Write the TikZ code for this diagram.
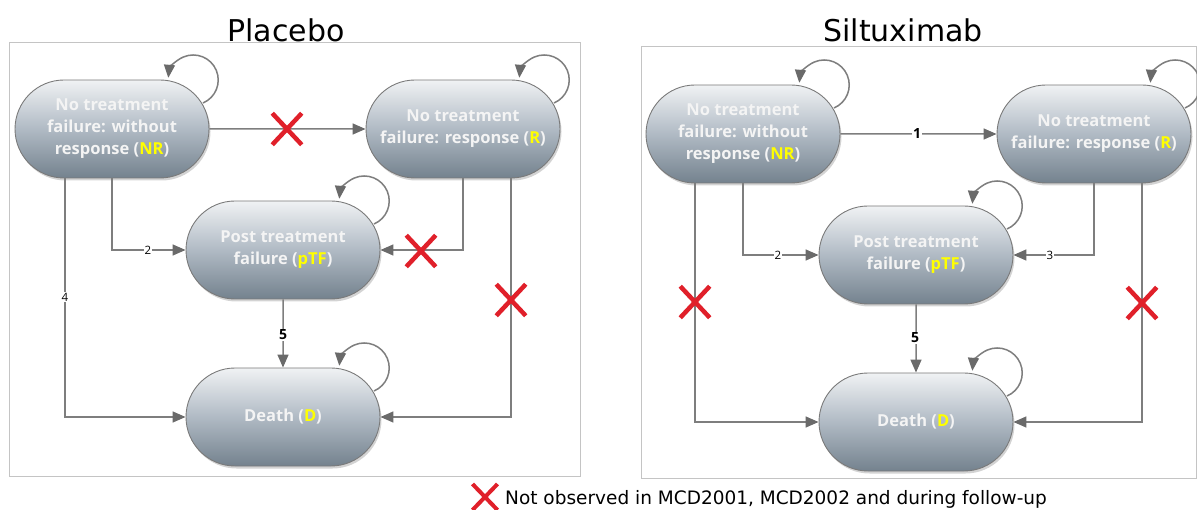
\documentclass[tikz,border=0pt]{standalone}
\usepackage{fontspec}
\setmainfont{DejaVu Sans}
\newfontfamily\nodefont{Open Sans}
\usetikzlibrary{arrows.meta,shapes.misc,shadows,calc}
\definecolor{conncol}{HTML}{7E7E7E}
\definecolor{tipcol}{HTML}{6A6A6A}
\definecolor{xred}{HTML}{E0202A}
\definecolor{framecol}{HTML}{C4C4C4}
\definecolor{stop}{HTML}{F0F2F4}
\definecolor{smid}{HTML}{B0BAC4}
\definecolor{sbot}{HTML}{74828E}
\definecolor{sedge}{HTML}{7A7A7A}
\definecolor{yel}{HTML}{FFFF00}
\definecolor{ntext}{HTML}{F4F4F4}
\newcommand\selfloop[1]{\draw[conn] ($(#1.center)+(91,26)$) arc[start angle=-67, end angle=175, radius=25];}
\begin{document}
\begin{tikzpicture}[x=1pt,y=1pt,
  state/.style={shape=rounded rectangle, minimum width=194pt, minimum height=98pt, inner sep=0pt,
    draw=sedge, line width=0.9pt, top color=stop, bottom color=sbot, middle color=smid,
    drop shadow={shadow xshift=1.5pt, shadow yshift=-2.5pt, opacity=0.35},
    text=ntext, align=center, font=\nodefont\bfseries\fontsize{16.5}{22}\selectfont},
  conn/.style={draw=conncol, line width=1.5pt, -{Triangle[length=13pt,width=11pt,color=tipcol]}},
  lbl/.style={fill=white, inner sep=1pt, font=\nodefont\fontsize{11.5}{11.5}\selectfont},
  blbl/.style={fill=white, inner sep=1pt, font=\nodefont\bfseries\fontsize{14}{14}\selectfont},
  xmark/.style={cross out, draw=xred, line width=4.5pt, minimum width=25pt, minimum height=27pt, inner sep=0pt},
  title/.style={anchor=base, font=\fontsize{30}{30}\selectfont}
]
\useasboundingbox (0,0) rectangle (1197,-510);

% frames and titles
\draw[framecol, line width=0.8pt] (9,-42) rectangle (580,-476);
\draw[framecol, line width=0.8pt] (641,-46) rectangle (1196.5,-478);
\node[title] (t1) at (286,-42) {Placebo};
\node[title] (t2) at (903,-42) {Siltuximab};

% ---------- Placebo ----------
\node[state] (NRa) at (112,-129) {No treatment\\failure: without\\response (\textcolor{yel}{NR})};
\node[state] (Ra) at (463,-129) {No treatment\\failure: response (\textcolor{yel}{R})};
\node[state] (Pa) at (283,-250) {Post treatment\\failure (\textcolor{yel}{pTF})};
\node[state] (Da) at (283,-417) {Death (\textcolor{yel}{D})};

\selfloop{NRa}
\selfloop{Ra}
\selfloop{Pa}
\selfloop{Da}

\draw[conn] (NRa) -- (Ra);
\draw[conn] (NRa.south) |- (Pa.west);
\draw[conn] ([xshift=-47pt]NRa.south) |- (Da.west);
\draw[conn] (Ra.south) |- (Pa.east);
\draw[conn] ([xshift=48pt]Ra.south) |- (Da.east);
\draw[conn] (Pa) -- (Da);

\node[lbl] (la2) at (148,-250) {2};
\node[lbl] (la4) at (65,-297) {4};
\node[blbl] (la5) at (283,-335) {5};
\node[xmark] (xa1) at (287,-129) {};
\node[xmark] (xa2) at (421,-251) {};
\node[xmark] (xa3) at (511,-300) {};

% ---------- Siltuximab ----------
\node[state] (NRb) at (743,-134) {No treatment\\failure: without\\response (\textcolor{yel}{NR})};
\node[state] (Rb) at (1094,-134) {No treatment\\failure: response (\textcolor{yel}{R})};
\node[state] (Pb) at (916,-255) {Post treatment\\failure (\textcolor{yel}{pTF})};
\node[state] (Db) at (916,-422) {Death (\textcolor{yel}{D})};

\selfloop{NRb}
\selfloop{Rb}
\selfloop{Pb}
\selfloop{Db}

\draw[conn] (NRb) -- (Rb);
\draw[conn] (NRb.south) |- (Pb.west);
\draw[conn] ([xshift=-48pt]NRb.south) |- (Db.west);
\draw[conn] (Rb.south) |- (Pb.east);
\draw[conn] ([xshift=48pt]Rb.south) |- (Db.east);
\draw[conn] (Pb) -- (Db);

\node[blbl] (lb1) at (917,-134) {1};
\node[lbl] (lb2) at (778,-255) {2};
\node[lbl] (lb3) at (1050,-255) {3};
\node[blbl] (lb5) at (915,-338) {5};
\node[xmark] (xb1) at (695,-302) {};
\node[xmark] (xb2) at (1142,-303) {};

% ---------- legend ----------
\node[xmark, minimum width=21pt, minimum height=22pt, line width=4pt] (xl) at (485,-497) {};
\node[anchor=base west, inner sep=0pt, font=\fontsize{18.5}{18.5}\selectfont] (leg) at (505,-504) {Not observed in MCD2001, MCD2002 and during follow-up};
\end{tikzpicture}
\end{document}
